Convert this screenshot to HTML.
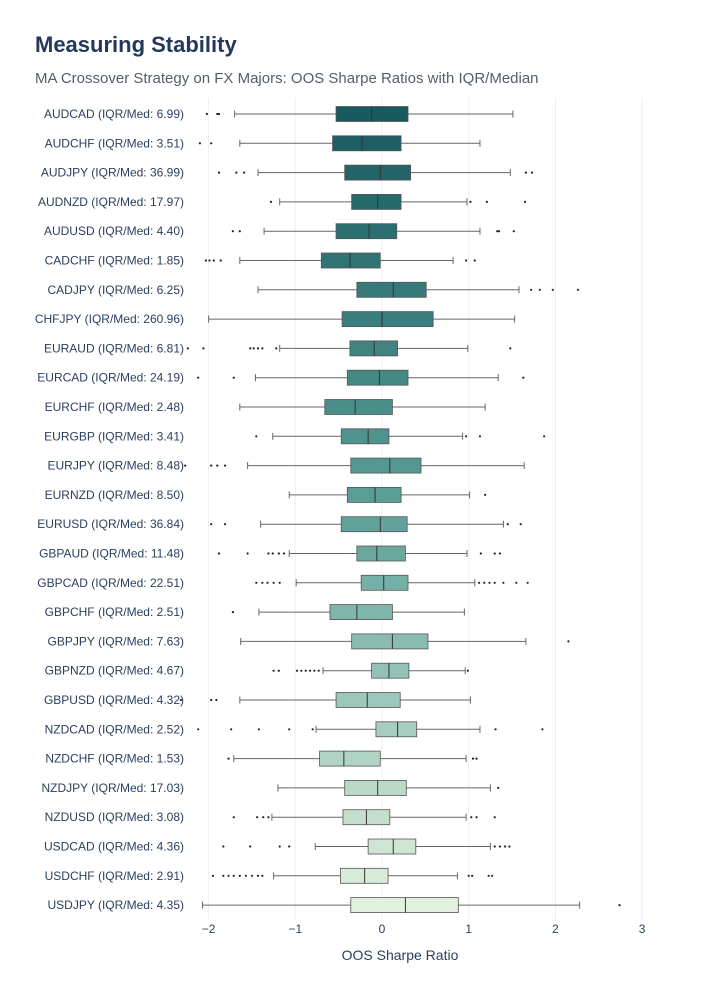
<!DOCTYPE html>
<html><head><meta charset="utf-8"><style>
body{margin:0;background:#fff;}
svg{display:block;font-family:"Liberation Sans",sans-serif;}
</style></head><body>
<svg id="chart" width="724" height="1000" xmlns="http://www.w3.org/2000/svg">
<text x="35" y="52" font-size="22" font-weight="bold" fill="#24385c">Measuring Stability</text>
<text x="35" y="83" font-size="15" fill="#555d6b">MA Crossover Strategy on FX Majors: OOS Sharpe Ratios with IQR/Median</text>
<g id="grid"></g><g id="boxes"></g><g id="labels"></g>
<text x="400" y="960" font-size="14" fill="#2a3f5f" text-anchor="middle">OOS Sharpe Ratio</text>
</svg>
<script>
const pairs=["AUDCAD","AUDCHF","AUDJPY","AUDNZD","AUDUSD","CADCHF","CADJPY","CHFJPY","EURAUD","EURCAD","EURCHF","EURGBP","EURJPY","EURNZD","EURUSD","GBPAUD","GBPCAD","GBPCHF","GBPJPY","GBPNZD","GBPUSD","NZDCAD","NZDCHF","NZDJPY","NZDUSD","USDCAD","USDCHF","USDJPY"];
const iqrMed=["6.99","3.51","36.99","17.97","4.40","1.85","6.25","260.96","6.81","24.19","2.48","3.41","8.48","8.50","36.84","11.48","22.51","2.51","7.63","4.67","4.32","2.52","1.53","17.03","3.08","4.36","2.91","4.35"];
const q1=[-0.53,-0.57,-0.43,-0.35,-0.53,-0.70,-0.29,-0.46,-0.37,-0.40,-0.66,-0.47,-0.36,-0.40,-0.47,-0.29,-0.24,-0.60,-0.35,-0.12,-0.53,-0.07,-0.72,-0.43,-0.45,-0.16,-0.48,-0.36];
const med=[-0.12,-0.23,-0.02,-0.05,-0.15,-0.37,0.13,0.0,-0.09,-0.03,-0.31,-0.16,0.09,-0.08,-0.02,-0.06,0.02,-0.29,0.12,0.08,-0.17,0.18,-0.44,-0.05,-0.18,0.13,-0.20,0.27];
const q3=[0.30,0.22,0.33,0.22,0.17,-0.02,0.51,0.59,0.18,0.30,0.12,0.08,0.45,0.22,0.29,0.27,0.30,0.12,0.53,0.31,0.21,0.40,-0.02,0.28,0.09,0.39,0.07,0.88];
const lo=[-1.70,-1.64,-1.43,-1.18,-1.36,-1.64,-1.43,-2.0,-1.18,-1.46,-1.64,-1.26,-1.55,-1.07,-1.40,-1.07,-0.99,-1.42,-1.63,-0.68,-1.64,-0.76,-1.71,-1.20,-1.27,-0.77,-1.25,-2.07];
const hi=[1.51,1.13,1.48,0.98,1.13,0.82,1.58,1.53,0.99,1.34,1.19,0.93,1.64,1.01,1.40,0.98,1.07,0.95,1.66,0.96,1.02,1.13,0.97,1.25,0.97,1.25,0.87,2.28];
const outliers=[[-2.02,-1.90,-1.88],[-2.10,-1.97],[-1.88,-1.68,-1.59,1.66,1.73],[-1.28,1.02,1.21,1.65],[-1.72,-1.64,1.33,1.35,1.52],[-2.03,-1.99,-1.94,-1.86,0.97,1.07],[1.72,1.82,1.97,2.26],[],[-2.24,-2.06,-1.52,-1.48,-1.43,-1.38,-1.22,1.48],[-2.12,-1.71,1.63],[],[-1.45,0.97,1.13,1.87],[-2.27,-1.97,-1.90,-1.81],[1.19],[-1.97,-1.81,1.45,1.60],[-1.88,-1.55,-1.31,-1.26,-1.19,-1.13,1.14,1.30,1.36],[-1.45,-1.38,-1.32,-1.25,-1.18,1.12,1.18,1.24,1.30,1.40,1.55,1.68],[-1.72],[2.15],[-1.25,-1.19,-0.98,-0.93,-0.88,-0.83,-0.78,-0.73,0.99],[-2.32,-1.97,-1.91],[-2.12,-1.74,-1.42,-1.07,-0.80,1.31,1.85],[-1.77,1.05,1.09],[1.34],[-1.71,-1.44,-1.37,-1.31,1.03,1.09,1.30],[-1.83,-1.52,-1.18,-1.07,1.30,1.36,1.42,1.47],[-1.95,-1.83,-1.77,-1.71,-1.64,-1.57,-1.50,-1.43,-1.38,1.00,1.04,1.23,1.27],[2.74]];
const ticks=[-2,-1,0,1,2,3];
const NS="http://www.w3.org/2000/svg";
const x=v=>382+v*86.7;
const y=i=>114+i*29.3;
function mk(t,a,p){const e=document.createElementNS(NS,t);for(const k in a)e.setAttribute(k,a[k]);p.appendChild(e);return e;}
function col(i){const t=i/(pairs.length-1);const s=[[24,90,96],[92,160,152],[226,241,222]];let a,b,u;if(t<0.5){a=s[0];b=s[1];u=t/0.5;}else{a=s[1];b=s[2];u=(t-0.5)/0.5;}return `rgb(${a.map((c,k)=>Math.round(c+(b[k]-c)*u)).join(',')})`;}
const G=document.getElementById('grid'),B=document.getElementById('boxes'),L=document.getElementById('labels');
ticks.forEach(t=>{
const g=mk('line',{x1:x(t),x2:x(t),y1:98,y2:920,stroke:'#ebeff5','stroke-width':1},G);


const tl=mk('text',{x:x(t),y:933,'font-size':12,fill:'#2a3f5f','text-anchor':'middle'},L);
tl.textContent=t<0?'\u2212'+Math.abs(t):String(t);


});
pairs.forEach((p,i)=>{
const cy=y(i),c=col(i),h=7.5;
const lb=mk('text',{x:184,y:cy+4,'font-size':12,fill:'#2a3f5f','text-anchor':'end'},L);
lb.textContent=p+' (IQR/Med: '+iqrMed[i]+')';


const g=mk('g',{},B);


mk('line',{x1:x(lo[i]),x2:x(q1[i]),y1:cy,y2:cy,stroke:'#666','stroke-width':1},g);
mk('line',{x1:x(q3[i]),x2:x(hi[i]),y1:cy,y2:cy,stroke:'#666','stroke-width':1},g);
mk('line',{x1:x(lo[i]),x2:x(lo[i]),y1:cy-3.5,y2:cy+3.5,stroke:'#666','stroke-width':1},g);
mk('line',{x1:x(hi[i]),x2:x(hi[i]),y1:cy-3.5,y2:cy+3.5,stroke:'#666','stroke-width':1},g);
mk('rect',{x:x(q1[i]),y:cy-h,width:x(q3[i])-x(q1[i]),height:2*h,fill:c,stroke:'#555','stroke-width':0.8},g);
mk('line',{x1:x(med[i]),x2:x(med[i]),y1:cy-h,y2:cy+h,stroke:'#333','stroke-width':1},g);
outliers[i].forEach(o=>{
const d=mk('circle',{cx:x(o),cy:cy,r:1.1,fill:'#222'},g);


});
});
</script>
</body></html>
